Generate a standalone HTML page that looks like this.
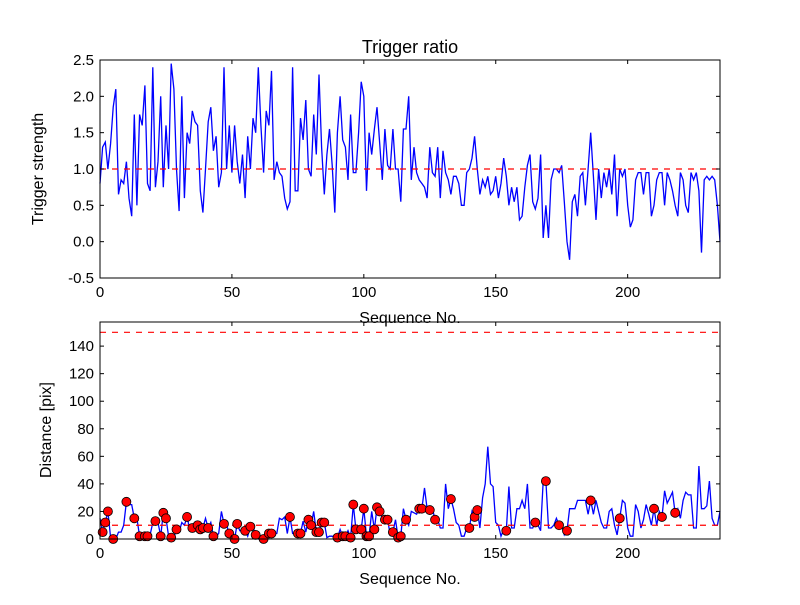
<!DOCTYPE html>
<html><head><meta charset="utf-8">
<style>
body{margin:0;background:#fff;}
svg text{font-family:"Liberation Sans",sans-serif;fill:#000;}
</style></head>
<body>
<svg id="chart" width="800" height="600" xmlns="http://www.w3.org/2000/svg"></svg>
<script>
const triggerStrength = [
0.8,1.3,1.37,1.0,1.35,1.85,2.1,0.65,0.85,0.8,
1.1,0.6,0.35,1.75,0.5,1.75,1.6,2.15,0.8,0.7,
2.4,0.75,1.1,2.0,0.75,1.6,1.0,2.45,2.1,1.0,
0.42,2.0,0.6,1.5,1.35,1.8,1.65,1.6,0.7,0.4,
1.0,1.65,1.85,1.25,1.45,0.75,0.95,2.4,1.0,1.6,
0.95,1.6,1.1,0.8,1.2,0.6,1.45,1.0,1.7,1.5,
2.4,1.6,0.95,1.8,1.6,2.35,0.85,1.1,0.95,0.9,
0.6,0.45,0.55,2.4,0.7,0.7,1.7,1.4,1.95,1.0,
0.9,1.75,1.2,2.3,1.3,0.65,1.2,1.55,1.05,0.4,
1.5,2.0,1.4,1.3,0.85,1.75,0.95,0.95,1.5,2.2,
2.0,0.7,1.5,1.2,1.55,1.85,1.35,0.85,1.55,1.05,
1.0,1.55,1.0,1.0,0.55,1.55,1.55,2.0,0.85,1.3,
0.95,0.85,0.8,0.75,0.6,1.3,0.95,0.9,1.3,0.6,
1.25,0.95,0.85,0.65,0.9,0.9,0.8,0.5,0.5,0.95,
1.0,1.15,1.45,1.0,0.65,0.85,0.75,0.9,0.65,0.7,
0.9,0.6,0.8,1.15,0.9,0.5,0.75,0.55,0.75,0.3,
0.35,0.75,1.05,1.2,0.55,0.45,0.6,1.2,0.05,0.5,
0.05,0.85,1.0,1.0,0.95,1.05,0.55,0.0,-0.25,0.55,
0.65,0.35,0.9,0.95,0.5,1.0,1.5,0.9,0.3,1.0,
0.6,0.95,0.75,1.0,0.65,1.2,0.35,1.0,0.9,1.0,
0.5,0.2,0.3,0.85,0.95,0.95,0.65,0.95,0.95,0.35,
0.5,0.85,0.95,0.95,0.5,0.95,0.85,0.7,0.5,0.35,
0.95,0.85,0.5,0.4,0.95,0.85,0.95,0.7,-0.15,0.85,
0.9,0.85,0.9,0.85,0.5,0.0];
const distance = [
15,5,12,20,1,0,0,5,5,10,
27,25,25,15,15,2,2,2,2,3,
12,13,12,2,19,15,2,1,1,7,
5,12,10,16,7,8,7,10,7,8,
15,8,12,2,2,4,20,11,10,4,
3,0,11,6,6,6,2,9,9,3,
0,1,0,4,4,4,4,4,15,14,
16,4,16,4,4,4,4,13,5,14,
10,20,5,5,12,12,1,2,2,1,
1,7,2,2,6,1,25,7,7,7,
22,2,2,20,7,23,20,15,14,14,
3,5,14,1,2,22,14,10,20,19,
18,22,22,37,22,21,22,14,14,8,
8,40,22,29,22,12,10,2,2,8,
8,20,16,21,8,30,40,67,40,38,
12,10,2,7,6,38,8,8,22,22,
28,22,40,8,8,12,10,6,42,42,
8,8,10,15,10,10,3,6,22,22,
22,28,28,28,28,18,28,18,28,20,
12,8,8,20,22,10,3,15,28,26,
8,2,2,25,20,8,14,25,18,10,
22,10,20,16,35,26,30,34,19,22,
15,28,34,32,32,8,8,53,22,22,
24,42,15,10,10,20];
const markerIdx = [1,2,3,5,10,13,15,17,18,21,23,24,25,27,29,33,35,37,38,39,41,43,47,49,51,52,55,57,59,62,64,65,72,75,76,79,80,82,83,84,85,90,92,93,95,96,97,99,100,101,102,104,105,106,108,109,111,113,114,116,121,122,125,127,133,140,142,143,154,165,169,174,177,186,197,210,213,218];
const xTicks = [0,50,100,150,200];
const topTicks = [-0.5,0.0,0.5,1.0,1.5,2.0,2.5];
const botTicks = [0,20,40,60,80,100,120,140];
const topThreshold = [1.0];
const botThresholds = [10,150];

const NS="http://www.w3.org/2000/svg";
const svg=document.getElementById('chart');
function mk(tag,attrs,parent){const e=document.createElementNS(NS,tag);for(const k in attrs)e.setAttribute(k,attrs[k]);(parent||svg).appendChild(e);return e;}
const L=100,R=720,XMAX=235;
const sx=v=>L+(v/XMAX)*(R-L);
const T1=60,B1=278,sy1=v=>B1-(v+0.5)/3*(B1-T1);
const T2=322,B2=539,YM2=157.5,sy2=v=>B2-v/YM2*(B2-T2);

function panel(T,B,sy,yt,fmt,name){
  const g=mk('g',{});
  
  
  return g;
}
// top panel
const gTop=panel(T1,B1,sy1,topTicks,null,'top-panel');
const gBot=panel(T2,B2,sy2,botTicks,null,'bottom-panel');

function drawAxes(g,T,B,sy,yt,fmt,prefix){
  xTicks.forEach(t=>{
    const x=sx(t);
    const a=mk('line',{x1:x,x2:x,y1:B,y2:B-4,stroke:'#000'},g);
    
    
    mk('line',{x1:x,x2:x,y1:T,y2:T+4,stroke:'#000'},g);
    const tx=mk('text',{x:x,y:B+19,'text-anchor':'middle','font-size':15},g);
    tx.textContent=t;
    
    
  });
  yt.forEach(t=>{
    const y=sy(t);
    mk('line',{x1:L,x2:L+4,y1:y,y2:y,stroke:'#000'},g);
    mk('line',{x1:R,x2:R-4,y1:y,y2:y,stroke:'#000'},g);
    const tx=mk('text',{x:L-6,y:y+5,'text-anchor':'end','font-size':15},g);
    tx.textContent=fmt(t);
    
    
  });
}
function frame(g,T,B,prefix){
  const r=mk('rect',{x:L,y:T,width:R-L,height:B-T,fill:'none',stroke:'#000','stroke-width':1},g);
  
  
}
function linePath(data,sy){return data.map((v,i)=>(i?'L':'M')+sx(i).toFixed(1)+','+sy(v).toFixed(1)).join('');}

// top series
const p1=mk('path',{d:linePath(triggerStrength,sy1),fill:'none',stroke:'#0000ff','stroke-width':1.3},gTop);


topThreshold.forEach(v=>{
  const l=mk('line',{x1:L,x2:R,y1:sy1(v),y2:sy1(v),stroke:'#ff0000','stroke-dasharray':'6,6','stroke-width':1.2},gTop);
  
  
});
drawAxes(gTop,T1,B1,sy1,topTicks,t=>t.toFixed(1),'top');
frame(gTop,T1,B1,'top');

// bottom series
const p2=mk('path',{d:linePath(distance,sy2),fill:'none',stroke:'#0000ff','stroke-width':1.3},gBot);


botThresholds.forEach(v=>{
  const l=mk('line',{x1:L,x2:R,y1:sy2(v),y2:sy2(v),stroke:'#ff0000','stroke-dasharray':'6,6','stroke-width':1.2},gBot);
  
  
});
markerIdx.forEach(i=>{
  const c=mk('circle',{cx:sx(i),cy:sy2(distance[i]),r:4.5,fill:'#ff0000',stroke:'#000','stroke-width':0.8},gBot);
  
  
});
drawAxes(gBot,T2,B2,sy2,botTicks,t=>String(t),'bottom');
frame(gBot,T2,B2,'bottom');
</script>
<svg width="800" height="600" style="position:absolute;left:0;top:0;pointer-events:none" xmlns="http://www.w3.org/2000/svg">
<text x="410" y="53" text-anchor="middle" font-size="18">Trigger ratio</text>
<text x="410" y="323" text-anchor="middle" font-size="16">Sequence No.</text>
<text x="410" y="584" text-anchor="middle" font-size="16">Sequence No.</text>
<text x="43" y="169" text-anchor="middle" font-size="16" transform="rotate(-90 43 169)">Trigger strength</text>
<text x="51" y="430" text-anchor="middle" font-size="16" transform="rotate(-90 51 430)">Distance [pix]</text>
</svg>
<style>body{position:relative;width:800px;height:600px;overflow:hidden}</style>
</body></html>
